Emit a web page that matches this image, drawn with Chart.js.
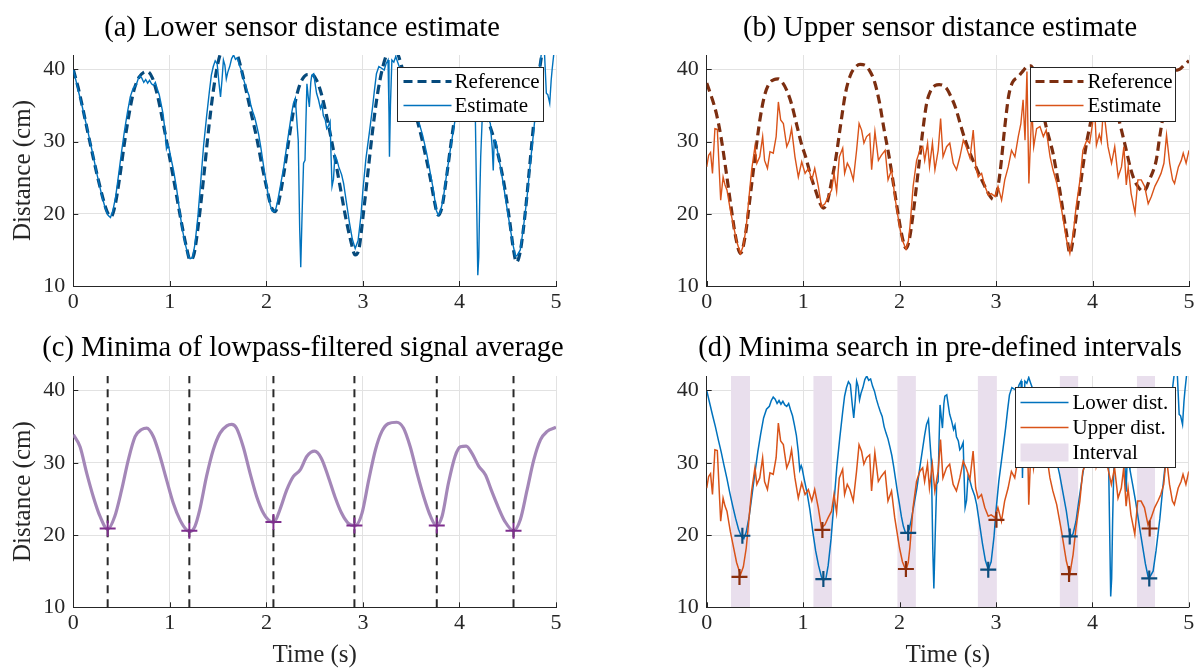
<!DOCTYPE html>
<html><head><meta charset="utf-8">
<script src="https://cdn.jsdelivr.net/npm/chart.js@4/dist/chart.umd.min.js"></script>
<style>
html,body{margin:0;padding:0;background:#fff;}
body{width:1199px;height:671px;overflow:hidden;position:relative;}
canvas{position:absolute;}
</style></head><body>
<canvas id="ca" width="600" height="330" style="left:0px;top:0px"></canvas>
<canvas id="cb" width="599" height="330" style="left:600px;top:0px"></canvas>
<canvas id="cc" width="600" height="341" style="left:0px;top:330px"></canvas>
<canvas id="cd" width="599" height="341" style="left:600px;top:330px"></canvas>
<script>
// ---------------- DATA ----------------
const xTicks = [0, 1, 2, 3, 4, 5];
const yTicks = [10, 20, 30, 40];
const titles = ['(a) Lower sensor distance estimate', '(b) Upper sensor distance estimate',
  '(c) Minima of lowpass-filtered signal average', '(d) Minima search in pre-defined intervals'];
const xLabel = 'Time (s)';
const yLabel = 'Distance (cm)';

// [time s, distance cm]
const lowerReference = [[0,40.0],[0.05,37.5],[0.1,34.5],[0.15,31.3],[0.2,28.2],[0.25,25.2],[0.3,22.5],[0.35,20.3],[0.39,19.6],[0.43,21.0],[0.48,25.0],[0.53,29.8],[0.58,34.0],[0.63,37.2],[0.68,38.9],[0.73,39.6],[0.77,39.7],[0.82,38.8],[0.87,36.5],[0.92,33.3],[0.97,29.8],[1.02,26.2],[1.07,22.5],[1.12,18.8],[1.17,15.5],[1.21,13.6],[1.25,14.4],[1.3,19.0],[1.35,25.0],[1.4,31.5],[1.45,37.0],[1.5,41.0],[1.55,43.0],[1.6,43.6],[1.65,43.3],[1.7,42.0],[1.75,39.5],[1.8,36.5],[1.85,33.5],[1.9,30.5],[1.95,27.0],[2.0,23.8],[2.05,21.0],[2.09,20.3],[2.13,21.8],[2.18,25.5],[2.23,30.0],[2.28,34.2],[2.33,37.2],[2.38,38.8],[2.43,39.3],[2.47,39.3],[2.52,38.5],[2.57,36.6],[2.62,33.8],[2.67,30.5],[2.72,27.0],[2.77,23.3],[2.82,19.6],[2.87,16.5],[2.92,14.3],[2.96,15.2],[3.0,19.5],[3.05,25.5],[3.1,31.5],[3.15,36.5],[3.2,40.0],[3.25,42.2],[3.3,43.0],[3.35,42.5],[3.4,40.5],[3.45,38.0],[3.5,35.3],[3.55,33.5],[3.6,31.0],[3.65,28.0],[3.7,24.8],[3.74,21.8],[3.78,19.8],[3.82,21.0],[3.87,25.5],[3.92,30.5],[3.97,35.0],[4.02,38.0],[4.07,39.5],[4.12,39.6],[4.17,38.5],[4.22,36.5],[4.27,34.2],[4.32,32.0],[4.37,29.8],[4.42,27.0],[4.47,23.5],[4.52,19.0],[4.56,15.0],[4.59,13.3],[4.63,14.8],[4.68,20.0],[4.73,27.0],[4.78,34.0],[4.83,40.0],[4.88,44.0],[4.93,46.0],[5.0,47.0]];

const lowerEstimate = [[0,40.0],[0.03,38.3],[0.06,36.6],[0.09,35.0],[0.12,33.2],[0.15,31.5],[0.18,29.6],[0.21,27.8],[0.24,25.8],[0.27,24.0],[0.30,22.3],[0.33,20.8],[0.36,19.8],[0.385,19.5],[0.41,20.4],[0.44,22.5],[0.47,25.5],[0.50,28.6],[0.53,31.5],[0.56,34.0],[0.59,36.2],[0.62,37.4],[0.65,37.8],[0.67,38.6],[0.69,39.1],[0.71,38.8],[0.73,38.2],[0.75,38.6],[0.77,38.1],[0.79,38.5],[0.81,38.0],[0.83,37.8],[0.85,38.2],[0.87,37.3],[0.89,36.5],[0.91,35.2],[0.93,33.8],[0.95,31.5],[0.965,29.0],[0.98,29.6],[0.99,29.2],[1.01,27.8],[1.04,25.9],[1.07,23.5],[1.10,20.5],[1.13,17.8],[1.16,15.8],[1.19,14.2],[1.21,13.8],[1.235,13.9],[1.26,15.8],[1.29,19.5],[1.32,24.5],[1.35,29.5],[1.38,33.4],[1.41,37.0],[1.43,39.2],[1.45,40.4],[1.47,41.2],[1.49,40.8],[1.51,38.0],[1.525,36.2],[1.54,38.5],[1.555,41.3],[1.57,40.6],[1.585,38.7],[1.60,39.6],[1.62,40.4],[1.64,41.5],[1.66,42.0],[1.68,41.4],[1.70,41.6],[1.72,40.6],[1.74,39.9],[1.76,38.8],[1.78,37.9],[1.80,37.1],[1.82,36.4],[1.84,35.0],[1.86,34.1],[1.88,33.3],[1.90,32.2],[1.92,31.0],[1.94,29.4],[1.96,27.6],[1.98,25.8],[2.00,24.2],[2.02,22.5],[2.04,21.2],[2.06,20.4],[2.08,20.3],[2.10,20.8],[2.12,22.0],[2.15,24.2],[2.18,26.5],[2.21,29.3],[2.24,32.0],[2.26,33.8],[2.28,35.3],[2.30,36.0],[2.315,33.0],[2.33,30.2],[2.345,18.0],[2.356,12.6],[2.37,20.0],[2.385,27.0],[2.40,27.4],[2.41,33.0],[2.42,38.0],[2.435,36.0],[2.445,34.8],[2.46,38.2],[2.47,39.2],[2.49,39.4],[2.505,38.0],[2.52,36.7],[2.54,35.8],[2.56,34.6],[2.575,35.2],[2.59,33.6],[2.61,33.0],[2.625,31.8],[2.64,32.1],[2.66,32.8],[2.67,28.0],[2.68,23.8],[2.695,24.8],[2.71,28.1],[2.73,27.5],[2.75,26.5],[2.78,25.4],[2.80,24.2],[2.83,21.5],[2.86,18.8],[2.89,16.5],[2.92,15.2],[2.95,16.3],[2.98,19.8],[3.00,23.3],[3.03,27.5],[3.07,31.6],[3.10,34.8],[3.12,37.2],[3.14,39.4],[3.165,40.4],[3.19,40.2],[3.22,39.9],[3.24,40.8],[3.26,41.3],[3.27,34.0],[3.275,27.9],[3.285,35.0],[3.30,41.3],[3.32,41.0],[3.34,41.8],[3.36,41.0],[3.40,39.5],[3.45,37.5],[3.50,35.8],[3.55,34.0],[3.58,32.7],[3.62,30.8],[3.66,28.4],[3.70,25.5],[3.73,23.3],[3.76,20.5],[3.78,19.8],[3.80,20.2],[3.83,21.9],[3.86,24.8],[3.90,28.4],[3.93,31.0],[3.955,33.0],[3.98,35.5],[4.02,37.5],[4.06,38.6],[4.10,38.0],[4.14,37.0],[4.165,33.0],[4.18,20.0],[4.19,11.5],[4.20,14.0],[4.21,22.0],[4.22,27.9],[4.235,33.0],[4.26,34.0],[4.29,33.5],[4.32,32.5],[4.34,29.0],[4.35,26.0],[4.36,30.2],[4.38,30.0],[4.39,29.0],[4.42,26.8],[4.45,24.5],[4.49,21.0],[4.52,18.5],[4.55,16.0],[4.58,14.1],[4.60,14.3],[4.63,15.0],[4.66,17.8],[4.70,22.3],[4.73,26.5],[4.77,31.6],[4.80,36.0],[4.82,39.0],[4.84,41.3],[4.86,43.5],[4.88,42.5],[4.90,36.7],[4.915,36.5],[4.935,35.3],[4.95,38.5],[4.96,40.0],[4.98,42.5],[5.00,43.0]];

const upperReference = [[0,38.1],[0.05,36.2],[0.1,33.9],[0.15,30.5],[0.2,26.0],[0.25,21.2],[0.3,16.8],[0.35,14.5],[0.4,17.0],[0.45,22.3],[0.5,27.8],[0.55,32.9],[0.6,36.4],[0.65,38.1],[0.7,38.6],[0.74,38.7],[0.78,38.3],[0.83,37.1],[0.88,35.2],[0.93,32.5],[0.98,29.8],[1.03,27.7],[1.08,25.2],[1.13,23.2],[1.17,21.6],[1.21,20.8],[1.25,21.6],[1.29,24.2],[1.34,27.8],[1.39,32.5],[1.44,36.8],[1.49,39.2],[1.54,40.3],[1.59,40.7],[1.64,40.6],[1.69,39.8],[1.74,38.3],[1.79,35.5],[1.84,31.6],[1.89,28.0],[1.94,23.8],[1.99,19.5],[2.03,16.6],[2.066,15.2],[2.1,16.4],[2.14,20.0],[2.19,25.6],[2.24,31.5],[2.28,35.3],[2.32,37.0],[2.37,37.8],[2.41,37.9],[2.45,37.8],[2.49,37.3],[2.53,36.3],[2.58,34.7],[2.63,32.4],[2.68,30.2],[2.73,28.4],[2.78,26.8],[2.83,25.3],[2.88,23.9],[2.93,22.6],[2.97,22.0],[3.0,22.5],[3.04,25.6],[3.09,32.0],[3.13,36.3],[3.17,38.2],[3.23,39.0],[3.28,39.8],[3.32,40.4],[3.36,40.5],[3.4,39.5],[3.45,36.6],[3.52,32.0],[3.56,30.0],[3.59,28.4],[3.63,25.5],[3.66,23.3],[3.7,19.8],[3.73,17.3],[3.765,14.5],[3.8,16.6],[3.83,19.6],[3.87,23.5],[3.9,26.5],[3.94,30.0],[3.97,32.0],[4.02,35.5],[4.07,37.5],[4.12,38.2],[4.17,37.6],[4.22,35.8],[4.27,33.2],[4.3,31.6],[4.35,28.8],[4.39,26.5],[4.43,24.8],[4.47,23.8],[4.525,23.1],[4.56,23.6],[4.59,24.7],[4.63,26.0],[4.66,27.4],[4.7,31.0],[4.73,33.4],[4.77,36.8],[4.8,39.0],[4.85,39.8],[4.9,40.0],[4.95,40.6],[5.0,41.2]];

const upperEstimate = [[0,26.5],[0.02,28.1],[0.04,28.5],[0.06,25.6],[0.085,31.8],[0.11,31.7],[0.145,21.9],[0.17,25.1],[0.19,24.0],[0.21,23.3],[0.245,20.5],[0.28,18.2],[0.31,16.2],[0.35,14.5],[0.38,15.6],[0.41,18.2],[0.44,22.5],[0.466,26.1],[0.50,29.3],[0.52,27.0],[0.55,27.9],[0.58,30.7],[0.60,27.4],[0.63,26.3],[0.656,28.6],[0.69,28.4],[0.72,30.7],[0.743,35.5],[0.767,33.0],[0.795,32.5],[0.83,29.3],[0.857,30.2],[0.88,31.8],[0.915,27.9],[0.95,25.1],[0.985,27.2],[1.02,25.6],[1.054,26.3],[1.09,24.7],[1.12,26.3],[1.157,23.8],[1.19,21.0],[1.226,21.4],[1.26,22.4],[1.295,23.3],[1.32,25.6],[1.347,23.1],[1.375,27.9],[1.41,29.1],[1.43,25.6],[1.458,27.0],[1.485,26.3],[1.52,24.7],[1.554,28.8],[1.58,32.5],[1.606,31.6],[1.63,29.8],[1.658,30.7],[1.69,31.1],[1.71,26.1],[1.744,31.4],[1.78,27.4],[1.81,28.1],[1.85,28.8],[1.88,24.7],[1.917,26.1],[1.95,22.4],[2.00,18.2],[2.03,16.3],[2.066,15.1],[2.09,16.2],[2.107,18.2],[2.14,23.8],[2.176,27.4],[2.21,28.8],[2.24,29.3],[2.26,27.4],[2.29,29.8],[2.31,26.5],[2.34,29.8],[2.366,26.1],[2.40,28.8],[2.425,33.2],[2.45,27.9],[2.487,29.3],[2.52,29.8],[2.556,27.0],[2.59,26.1],[2.625,27.9],[2.66,30.2],[2.69,29.3],[2.73,27.7],[2.763,31.6],[2.79,26.5],[2.815,25.1],[2.85,25.6],[2.884,23.8],[2.92,22.6],[2.95,22.8],[2.99,22.4],[3.02,23.8],[3.057,21.9],[3.09,24.7],[3.126,26.5],[3.16,28.8],[3.195,27.9],[3.23,30.7],[3.257,32.5],[3.28,35.8],[3.30,30.2],[3.32,39.7],[3.34,24.2],[3.37,34.8],[3.39,29.3],[3.42,31.8],[3.455,32.1],[3.49,30.7],[3.52,31.6],[3.56,27.9],[3.59,26.1],[3.63,24.2],[3.68,20.5],[3.73,16.4],[3.765,14.5],[3.80,17.3],[3.83,21.0],[3.87,24.7],[3.90,28.8],[3.94,30.2],[3.97,29.8],[4.00,32.5],[4.02,35.0],[4.04,29.5],[4.07,31.0],[4.09,30.0],[4.11,34.0],[4.13,32.8],[4.16,29.3],[4.197,27.0],[4.23,29.3],[4.266,25.1],[4.30,26.5],[4.325,29.3],[4.35,24.0],[4.37,26.5],[4.40,22.8],[4.44,20.1],[4.47,24.7],[4.505,24.7],[4.54,23.8],[4.577,21.4],[4.61,22.4],[4.646,23.8],[4.68,24.7],[4.71,25.6],[4.74,27.0],[4.767,30.9],[4.80,27.0],[4.83,24.7],[4.85,24.2],[4.89,26.5],[4.92,27.4],[4.94,28.4],[4.97,27.0],[5.00,28.8]];

const filteredAverage = [[0,33.9],[0.07,32.2],[0.138,28.6],[0.207,25.3],[0.276,22.6],[0.356,20.8],[0.43,22.6],[0.50,26.2],[0.57,30.4],[0.64,33.6],[0.708,34.6],[0.76,34.8],[0.83,33.6],[0.898,30.9],[0.967,27.6],[1.036,24.4],[1.105,22.1],[1.174,20.7],[1.21,20.5],[1.26,21.2],[1.31,23.5],[1.38,28.1],[1.45,31.8],[1.52,34.1],[1.59,35.1],[1.64,35.3],[1.69,34.8],[1.76,32.2],[1.83,28.6],[1.90,25.3],[1.97,23.0],[2.04,21.9],[2.08,21.8],[2.14,23.5],[2.21,26.2],[2.28,28.1],[2.35,29.0],[2.42,30.9],[2.50,31.6],[2.57,30.6],[2.64,28.1],[2.71,25.3],[2.78,23.0],[2.85,21.6],[2.92,21.3],[2.99,23.0],[3.06,27.6],[3.13,31.8],[3.195,34.3],[3.26,35.4],[3.35,35.6],[3.42,34.8],[3.49,32.2],[3.56,28.6],[3.63,25.3],[3.70,22.6],[3.76,21.3],[3.82,22.6],[3.886,27.2],[3.955,30.9],[4.01,32.2],[4.07,32.3],[4.13,31.3],[4.20,29.5],[4.27,28.3],[4.33,26.2],[4.40,23.9],[4.47,21.9],[4.56,20.6],[4.63,22.1],[4.70,26.2],[4.77,30.4],[4.84,33.2],[4.905,34.3],[5.0,34.9]];

const averageMinimaTime = [0.356, 1.202, 2.073, 2.912, 3.765, 4.56];
const averageMinimaValue = [20.9, 20.6, 21.8, 21.3, 21.3, 20.6];

const intervalStart = [0.252, 1.105, 1.976, 2.81, 3.66, 4.46];
const intervalEnd   = [0.449, 1.30, 2.17, 3.01, 3.855, 4.65];

const lowerMinimaTime  = [0.37, 1.21, 2.09, 2.92, 3.765, 4.59];
const lowerMinimaValue = [19.9, 13.9, 20.3, 15.2, 19.8, 14.0];
const upperMinimaTime  = [0.34, 1.20, 2.066, 3.005, 3.758, 4.594];
const upperMinimaValue = [14.2, 20.7, 15.3, 22.1, 14.6, 20.9];

// ---------------- STYLE ----------------
const FF = "'Liberation Serif','Times New Roman',serif";
const AX = '#262626';
const GRID = '#e2e2e2';
const C_LOW = '#0072BD', C_LOWREF = '#064a7c';
const C_UP = '#D95319', C_UPREF = '#7c2e10';
const C_AVG = '#a487b8', C_AVGMK = '#7E2F8E';
const C_LOWMK = '#0b4d7d', C_UPMK = '#8a2e0e';
const C_INT = '#e9dfed';

const toXY = arr => arr.map(p => ({x: p[0], y: p[1]}));
const toXY2 = (ts, vs) => ts.map((t, i) => ({x: t, y: vs[i]}));

Chart.defaults.animation = false;
Chart.defaults.font.family = FF;

const innerTicks = {
  id: 'innerTicks',
  afterDraw(chart) {
    const {ctx, chartArea: a, scales: {x, y}} = chart;
    ctx.save();
    ctx.strokeStyle = AX; ctx.lineWidth = 1;
    x.ticks.forEach(t => {
      const px = Math.round(x.getPixelForValue(t.value)) + 0.5;
      ctx.beginPath(); ctx.moveTo(px, a.bottom); ctx.lineTo(px, a.bottom - 5); ctx.stroke();
    });
    y.ticks.forEach(t => {
      const py = Math.round(y.getPixelForValue(t.value)) + 0.5;
      ctx.beginPath(); ctx.moveTo(a.left, py); ctx.lineTo(a.left + 5, py); ctx.stroke();
    });
    ctx.restore();
  }
};

// caption-style title centred at a given canvas x
const captionTitle = {
  id: 'captionTitle',
  afterDraw(chart, args, o) {
    if (!o || !o.text) return;
    const ctx = chart.ctx;
    ctx.save();
    ctx.fillStyle = '#000';
    ctx.font = '28.5px ' + FF;
    ctx.textAlign = 'center';
    ctx.textBaseline = 'middle';
    ctx.fillText(o.text, o.cx, o.cy);
    ctx.restore();
  }
};

const boxLegend = {
  id: 'boxLegend',
  afterDraw(chart, args, o) {
    if (!o || !o.items) return;
    const {ctx, chartArea: a} = chart;
    const L = Math.round(a.right - o.right - o.width) + 0.5;
    const T = Math.round(a.top + o.top) + 0.5;
    ctx.save();
    ctx.fillStyle = '#fff';
    ctx.fillRect(L, T, o.width, o.height);
    ctx.strokeStyle = AX; ctx.lineWidth = 1;
    ctx.strokeRect(L, T, o.width, o.height);
    o.items.forEach((it, i) => {
      const ds = chart.data.datasets[it.ds];
      const cy = T + o.rows[i];
      if (it.box) {
        ctx.fillStyle = ds.backgroundColor;
        ctx.fillRect(L + o.sx, cy - 9, o.sw, 18);
      } else {
        ctx.strokeStyle = ds.borderColor;
        ctx.lineWidth = ds.borderWidth;
        ctx.setLineDash(ds.borderDash || []);
        ctx.beginPath(); ctx.moveTo(L + o.sx, cy); ctx.lineTo(L + o.sx + o.sw, cy); ctx.stroke();
        ctx.setLineDash([]);
      }
      ctx.fillStyle = '#000';
      ctx.font = '21px ' + FF;
      ctx.textBaseline = 'middle';
      ctx.textAlign = 'left';
      ctx.fillText(ds.label, L + o.tx, cy + 1);
    });
    ctx.restore();
  }
};

function makeOptions(cfg) {
  return {
    responsive: false,
    devicePixelRatio: 1,
    animation: false,
    layout: {padding: {left: 0, right: cfg.padRight, top: cfg.padTop, bottom: 0}},
    plugins: {
      legend: {display: false},
      tooltip: {enabled: false},
      title: {display: false},
      captionTitle: {text: cfg.title, cx: cfg.tx, cy: cfg.ty},
      boxLegend: cfg.legend || {}
    },
    scales: {
      x: {
        type: 'linear', min: 0, max: 5,
        afterBuildTicks: s => { s.ticks = xTicks.map(v => ({value: v})); },
        ticks: {color: AX, font: {family: FF, size: 22}, padding: 3, maxRotation: 0, autoSkip: false, includeBounds: false},
        grid: {color: GRID, drawTicks: false, lineWidth: 1},
        border: {color: AX, width: 1},
        title: cfg.xTitle ? {display: true, text: xLabel, color: AX, font: {family: FF, size: 25},
          padding: {top: 0, bottom: 1}} : {display: false},
        afterFit: s => { s.height = cfg.xH; }
      },
      y: {
        type: 'linear', min: 10, max: 42,
        afterBuildTicks: s => { s.ticks = yTicks.map(v => ({value: v})); },
        ticks: {color: AX, font: {family: FF, size: 22}, padding: 8, includeBounds: false},
        grid: {color: GRID, drawTicks: false, lineWidth: 1},
        border: {color: AX, width: 1},
        title: cfg.yTitle ? {display: true, text: yLabel, color: AX, font: {family: FF, size: 25},
          padding: {top: 8, bottom: 0}} : {display: false},
        afterFit: s => { s.width = cfg.yW; }
      }
    }
  };
}

const lineDs = (label, data, color, width, extra) => Object.assign({
  label, data, borderColor: color, backgroundColor: color, borderWidth: width,
  pointRadius: 0, fill: false, tension: 0, showLine: true
}, extra || {});

const allPlugins = [innerTicks, boxLegend, captionTitle];

// (a)
new Chart(document.getElementById('ca'), {
  type: 'scatter',
  data: {datasets: [
    lineDs('Estimate', toXY(lowerEstimate), C_LOW, 1.4),
    lineDs('Reference', toXY(lowerReference), C_LOWREF, 3.2, {borderDash: [9, 5], cubicInterpolationMode: 'monotone'})
  ]},
  options: makeOptions({title: titles[0], tx: 302, ty: 29, padTop: 55, xH: 44, yW: 73.3, padRight: 44, yTitle: true,
    legend: {right: 13, top: 12, width: 146, height: 54, rows: [14, 38], sx: 6, sw: 48, tx: 57, items: [{ds: 1}, {ds: 0}]}}),
  plugins: allPlugins
});

// (b)
new Chart(document.getElementById('cb'), {
  type: 'scatter',
  data: {datasets: [
    lineDs('Estimate', toXY(upperEstimate), C_UP, 1.4),
    lineDs('Reference', toXY(upperReference), C_UPREF, 3.2, {borderDash: [9, 5], cubicInterpolationMode: 'monotone'})
  ]},
  options: makeOptions({title: titles[1], tx: 340, ty: 29, padTop: 55, xH: 44, yW: 106.7, padRight: 10,
    legend: {right: 14, top: 12, width: 145, height: 54, rows: [14, 38], sx: 5, sw: 48, tx: 57, items: [{ds: 1}, {ds: 0}]}}),
  plugins: allPlugins
});

// (c)
const cDatasets = [
  Object.assign(lineDs('Minima', toXY2(averageMinimaTime, averageMinimaValue), C_AVGMK, 2),
    {showLine: false, pointStyle: 'cross', pointRadius: 8, pointBorderWidth: 2}),
  lineDs('Average', toXY(filteredAverage), C_AVG, 3.2, {cubicInterpolationMode: 'monotone'})
];
averageMinimaTime.forEach(t => {
  cDatasets.splice(1, 0, lineDs('Line', [{x: t, y: 10}, {x: t, y: 42}], '#2a2a2a', 2, {borderDash: [8, 6]}));
});
new Chart(document.getElementById('cc'), {
  type: 'scatter',
  data: {datasets: cDatasets},
  options: makeOptions({title: titles[2], tx: 303, ty: 19, padTop: 46, xH: 63.7, yW: 73.3, padRight: 44, yTitle: true, xTitle: true}),
  plugins: allPlugins
});

// (d)
const dDatasets = [
  Object.assign(lineDs('Upper minima', toXY2(upperMinimaTime, upperMinimaValue), C_UPMK, 2),
    {showLine: false, pointStyle: 'cross', pointRadius: 8, pointBorderWidth: 2.2}),
  Object.assign(lineDs('Lower minima', toXY2(lowerMinimaTime, lowerMinimaValue), C_LOWMK, 2),
    {showLine: false, pointStyle: 'cross', pointRadius: 8, pointBorderWidth: 2.2}),
  lineDs('Upper dist.', toXY(upperEstimate), C_UP, 1.5),
  lineDs('Lower dist.', toXY(lowerEstimate), C_LOW, 1.5)
];
intervalStart.forEach((s, i) => {
  dDatasets.push({label: 'Interval', data: [{x: s, y: 42}, {x: intervalEnd[i], y: 42}],
    showLine: true, borderWidth: 0, borderColor: C_INT, backgroundColor: C_INT, fill: 'start', pointRadius: 0});
});
new Chart(document.getElementById('cd'), {
  type: 'scatter',
  data: {datasets: dDatasets},
  options: makeOptions({title: titles[3], tx: 340, ty: 19, padTop: 46, xH: 63.7, yW: 106.7, padRight: 10, xTitle: true,
    legend: {right: 14, top: 11, width: 160, height: 80, rows: [15, 40, 65], sx: 5, sw: 48, tx: 57, items: [{ds: 3}, {ds: 2}, {ds: 4, box: true}]}}),
  plugins: allPlugins
});
</script>
</body></html>
